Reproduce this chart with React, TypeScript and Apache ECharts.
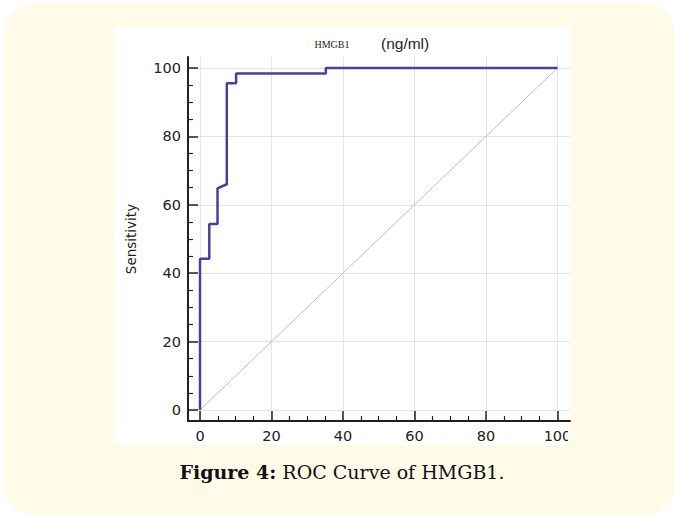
import React, { useEffect, useRef } from "react";
import * as echarts from "echarts";

// ROC curve points: 100 - Specificity (x) and Sensitivity (y)
const fpr = [0, 0, 2.6, 2.6, 4.9, 4.9, 7.5, 7.5, 10.1, 10.1, 35.2, 35.2, 100];
const sensitivity = [0, 44.2, 44.2, 54.4, 54.4, 64.8, 66.0, 95.5, 95.5, 98.4, 98.4, 100, 100];
// Reference (chance) line
const refX = [0, 100];
const refY = [0, 100];
// Tick values
const majorTicks = [0, 20, 40, 60, 80, 100];
const minorTicks = [5, 10, 15, 25, 30, 35, 45, 50, 55, 65, 70, 75, 85, 90, 95];
// Texts
const titleMain = "HMGB1";
const titleUnit = "(ng/ml)";
const yAxisName = "Sensitivity";
const captionBold = "Figure 4:";
const captionRest = " ROC Curve of HMGB1.";

const X_MIN = -3.357;
const X_MAX = 103.5;
const Y_MIN = -3.216;
const Y_MAX = 103.2;

const INK = "#222222";
const CREAM = "#fffbe8";

function baseAxis(min: number, max: number, position: string) {
  return {
    type: "value" as const,
    min,
    max,
    position,
    axisLine: { show: true, onZero: false, lineStyle: { color: INK, width: 2 } },
    axisTick: {
      show: true,
      inside: true,
      length: 10,
      customValues: majorTicks,
      lineStyle: { color: INK, width: 1.5 },
    },
    axisLabel: {
      show: true,
      customValues: majorTicks,
      fontFamily: "DejaVu Sans",
      fontSize: 14.5,
      color: INK,
      margin: 7,
    },
    splitLine: { show: true, lineStyle: { color: "#e4e4e4", width: 1 } },
  };
}

function minorAxis(min: number, max: number, position: string) {
  return {
    type: "value" as const,
    min,
    max,
    position,
    axisLine: { show: false, onZero: false },
    axisTick: {
      show: true,
      inside: true,
      length: 5,
      customValues: minorTicks,
      lineStyle: { color: INK, width: 1.2 },
    },
    axisLabel: { show: false },
    splitLine: { show: false },
  };
}

export default function App() {
  const ref = useRef<HTMLDivElement>(null);

  useEffect(() => {
    if (!ref.current) return;
    const chart = echarts.init(ref.current, undefined, { renderer: "svg" });
    const yMain: any = baseAxis(Y_MIN, Y_MAX, "left");
    yMain.name = yAxisName;
    yMain.nameLocation = "middle";
    yMain.nameGap = 50;
    yMain.nameTextStyle = { fontFamily: "DejaVu Sans", fontSize: 13.5, color: INK };

    chart.setOption({
      animation: false,
      backgroundColor: "#ffffff",
      grid: { left: 188, top: 57, width: 382, height: 364, containLabel: false },
      xAxis: [baseAxis(X_MIN, X_MAX, "bottom"), minorAxis(X_MIN, X_MAX, "bottom")],
      yAxis: [yMain, minorAxis(Y_MIN, Y_MAX, "left")],
      graphic: [
        {
          type: "rect",
          z: -10,
          silent: true,
          shape: { x: 4, y: 3, width: 671, height: 512, r: 30 },
          style: { fill: CREAM },
        },
        {
          type: "rect",
          z: -9,
          silent: true,
          shape: { x: 114, y: 27, width: 456, height: 418 },
          style: { fill: "#ffffff" },
        },
        {
          type: "rect",
          z: 100,
          silent: true,
          shape: { x: 568, y: 424, width: 40, height: 21 },
          style: { fill: CREAM },
        },
        {
          type: "text",
          z: 100,
          x: 332,
          y: 44,
          style: {
            text: titleMain,
            fontFamily: "Liberation Serif",
            fontSize: 10,
            fill: INK,
            align: "center",
            verticalAlign: "middle",
          },
        },
        {
          type: "text",
          z: 100,
          x: 381,
          y: 43,
          style: {
            text: titleUnit,
            fontFamily: "Liberation Sans",
            fontSize: 15.5,
            fill: INK,
            align: "left",
            verticalAlign: "middle",
          },
        },
        {
          type: "text",
          z: 100,
          x: 342,
          y: 472,
          style: {
            text: "{b|" + captionBold + "}{r|" + captionRest + "}",
            align: "center",
            verticalAlign: "middle",
            rich: {
              b: { fontFamily: "DejaVu Serif", fontWeight: "bold", fontSize: 19, fill: "#111111" },
              r: { fontFamily: "DejaVu Serif", fontSize: 19, fill: "#111111" },
            },
          },
        },
      ],
      series: [
        {
          type: "line",
          xAxisIndex: 0,
          yAxisIndex: 0,
          data: refX.map((x, i) => [x, refY[i]]),
          showSymbol: false,
          symbol: "none",
          lineStyle: { color: "#bdbdbd", width: 1 },
          z: 2,
        },
        {
          type: "line",
          xAxisIndex: 0,
          yAxisIndex: 0,
          data: fpr.map((x, i) => [x, sensitivity[i]]),
          showSymbol: false,
          symbol: "none",
          lineStyle: { color: "#4a3f98", width: 2.5 },
          z: 3,
        },
      ],
    });
    return () => chart.dispose();
  }, []);

  return (
    <div
      ref={ref}
      style={{ position: "absolute", left: 0, top: 0, width: 675, height: 515 }}
    />
  );
}
